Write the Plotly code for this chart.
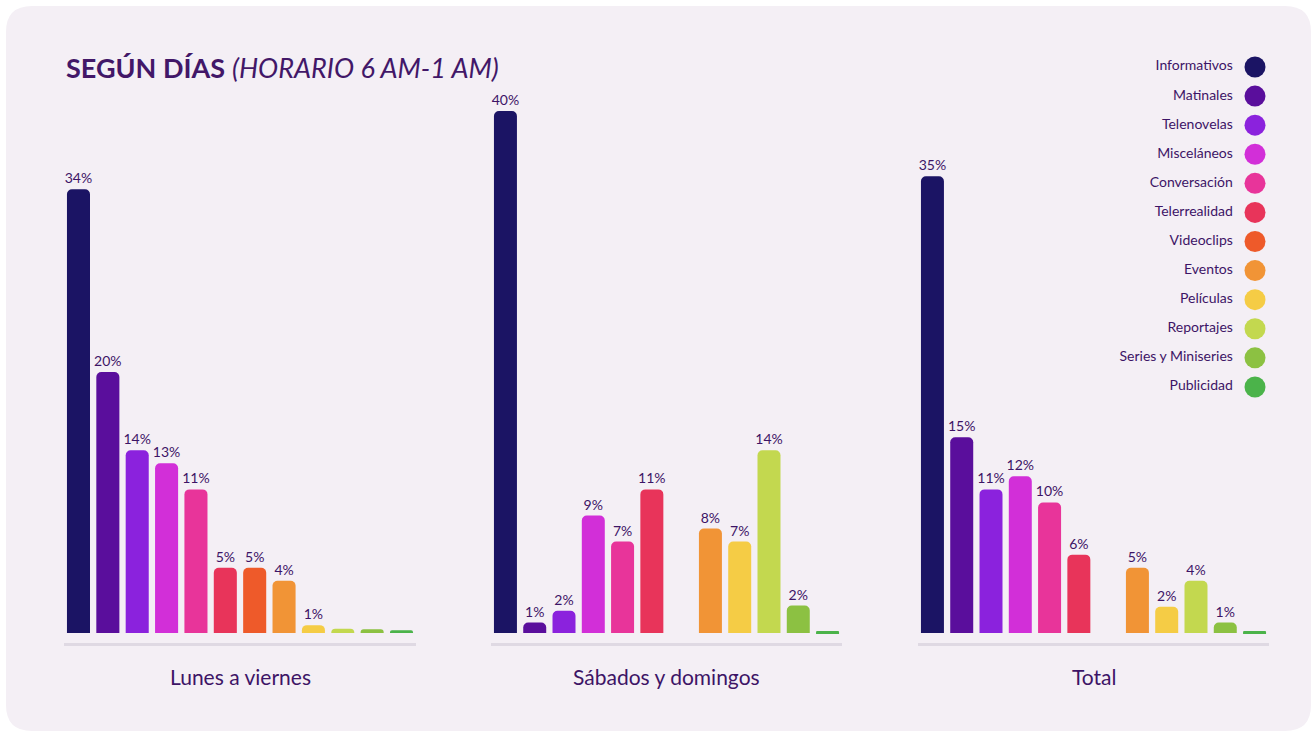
import plotly.graph_objects as go

categories = ["Informativos", "Matinales", "Telenovelas", "Misceláneos", "Conversación",
              "Telerrealidad", "Videoclips", "Eventos", "Películas", "Reportajes",
              "Series y Miniseries", "Publicidad"]
colors = ["#1b1464", "#5a0e9c", "#8b22dd", "#d22fd8", "#e8349a", "#e8345a",
          "#ee5a2a", "#f19436", "#f5cc45", "#c3d84f", "#8cc142", "#4bb34a"]
groups = ["Lunes a viernes", "Sábados y domingos", "Total"]
lunes_viernes = [34, 20, 14, 13, 11, 5, 5, 4, 0.6, 0.33, 0.28, 0.2]
sabados_domingos = [40, 0.8, 1.7, 9, 7, 11, 0, 8, 7, 14, 2.1, 0.15]
total = [35, 15, 11, 12, 10, 6, 0, 5, 2, 4, 0.8, 0.15]
series = [lunes_viernes, sabados_domingos, total]
title_main = "SEGÚN DÍAS"
title_sub = "(HORARIO 6 AM-1 AM)"

W, H = 1315, 732
TXT = "#3d1466"
FONT = "Lato, 'Open Sans', sans-serif"

fig = go.Figure()

xdoms_px = [(63.8, 416.2), (490.8, 842.2), (917.8, 1269.2)]
ybot_px, ytop_px = 643.4, 97.9
ydom = [(H - ybot_px) / H, (H - ytop_px) / H]

for i, (g, vals) in enumerate(zip(groups, series)):
    ax = "" if i == 0 else str(i + 1)
    texts = [f"{round(v)}%" if v >= 0.5 else "" for v in vals]
    fig.add_trace(go.Bar(
        x=categories, y=vals, marker=dict(color=colors, cornerradius=5, line=dict(width=0)),
        text=texts, textposition="outside", cliponaxis=False, constraintext="none",
        textfont=dict(family=FONT, size=14, color=TXT),
        xaxis="x" + ax, yaxis="y" + ax, showlegend=False, hoverinfo="x+y",
    ))
    x0, x1 = xdoms_px[i]
    fig.layout["xaxis" + ax] = dict(
        domain=[x0 / W, x1 / W], type="category", categoryorder="array",
        categoryarray=categories, range=[-0.5, 11.5], showticklabels=False,
        showgrid=False, zeroline=False, showline=True, linecolor="#dfd9e3",
        linewidth=3, anchor="y" + ax, fixedrange=True,
    )
    fig.layout["yaxis" + ax] = dict(
        domain=ydom, range=[-0.8, 41], visible=False, anchor="x" + ax, fixedrange=True,
    )
    fig.add_annotation(
        text=g, xref=("x" + ax + " domain"), yref="paper", x=0.5, y=(H - 676) / H,
        xanchor="center", yanchor="middle", showarrow=False,
        font=dict(family=FONT, size=21, color=TXT),
    )

# manual legend (symbols on the right, labels to their left)
fig.add_trace(go.Scatter(
    x=[0] * len(categories), y=categories, mode="markers",
    marker=dict(size=21, color=colors), xaxis="x4", yaxis="y4",
    showlegend=False, hoverinfo="skip", cliponaxis=False,
))
fig.add_trace(go.Scatter(
    x=[-0.8] * len(categories), y=categories, mode="markers+text",
    marker=dict(size=21, color="rgba(0,0,0,0)"), text=categories, textposition="middle left",
    textfont=dict(family=FONT, size=14, color=TXT), xaxis="x4", yaxis="y4",
    showlegend=False, hoverinfo="skip", cliponaxis=False,
))
fig.layout["xaxis4"] = dict(domain=[1245 / W, 1265 / W], range=[-1, 1], visible=False,
                            anchor="y4", fixedrange=True)
fig.layout["yaxis4"] = dict(domain=[(H - 401.5) / H, (H - 52.45) / H], type="category",
                            categoryorder="array", categoryarray=categories,
                            range=[11.5, -0.5], visible=False, anchor="x4", fixedrange=True)

# title
fig.add_annotation(
    text=f"<b>{title_main}</b> <i>{title_sub}</i>", xref="paper", yref="paper",
    x=64 / W, y=(H - 67) / H, xanchor="left", yanchor="middle", showarrow=False,
    font=dict(family=FONT, size=27, color="#421768"),
)

# card background with rounded corners
cx0, cx1 = 6 / W, 1311 / W
cyt, cyb = 1 - 6 / H, 1 - 731 / H
rx, ry = 26 / W, 26 / H
path = (f"M {cx0+rx},{cyt} L {cx1-rx},{cyt} Q {cx1},{cyt} {cx1},{cyt-ry} "
        f"L {cx1},{cyb+ry} Q {cx1},{cyb} {cx1-rx},{cyb} L {cx0+rx},{cyb} "
        f"Q {cx0},{cyb} {cx0},{cyb+ry} L {cx0},{cyt-ry} Q {cx0},{cyt} {cx0+rx},{cyt} Z")
fig.add_shape(type="path", path=path, xref="paper", yref="paper",
              fillcolor="#f4eff5", line=dict(width=0), layer="below")

fig.update_layout(
    width=W, height=H, margin=dict(l=0, r=0, t=0, b=0),
    paper_bgcolor="#ffffff", plot_bgcolor="rgba(0,0,0,0)",
    bargap=0.215, font=dict(family=FONT, color=TXT),
)

fig.write_html("out.html", config={"displayModeBar": False})
